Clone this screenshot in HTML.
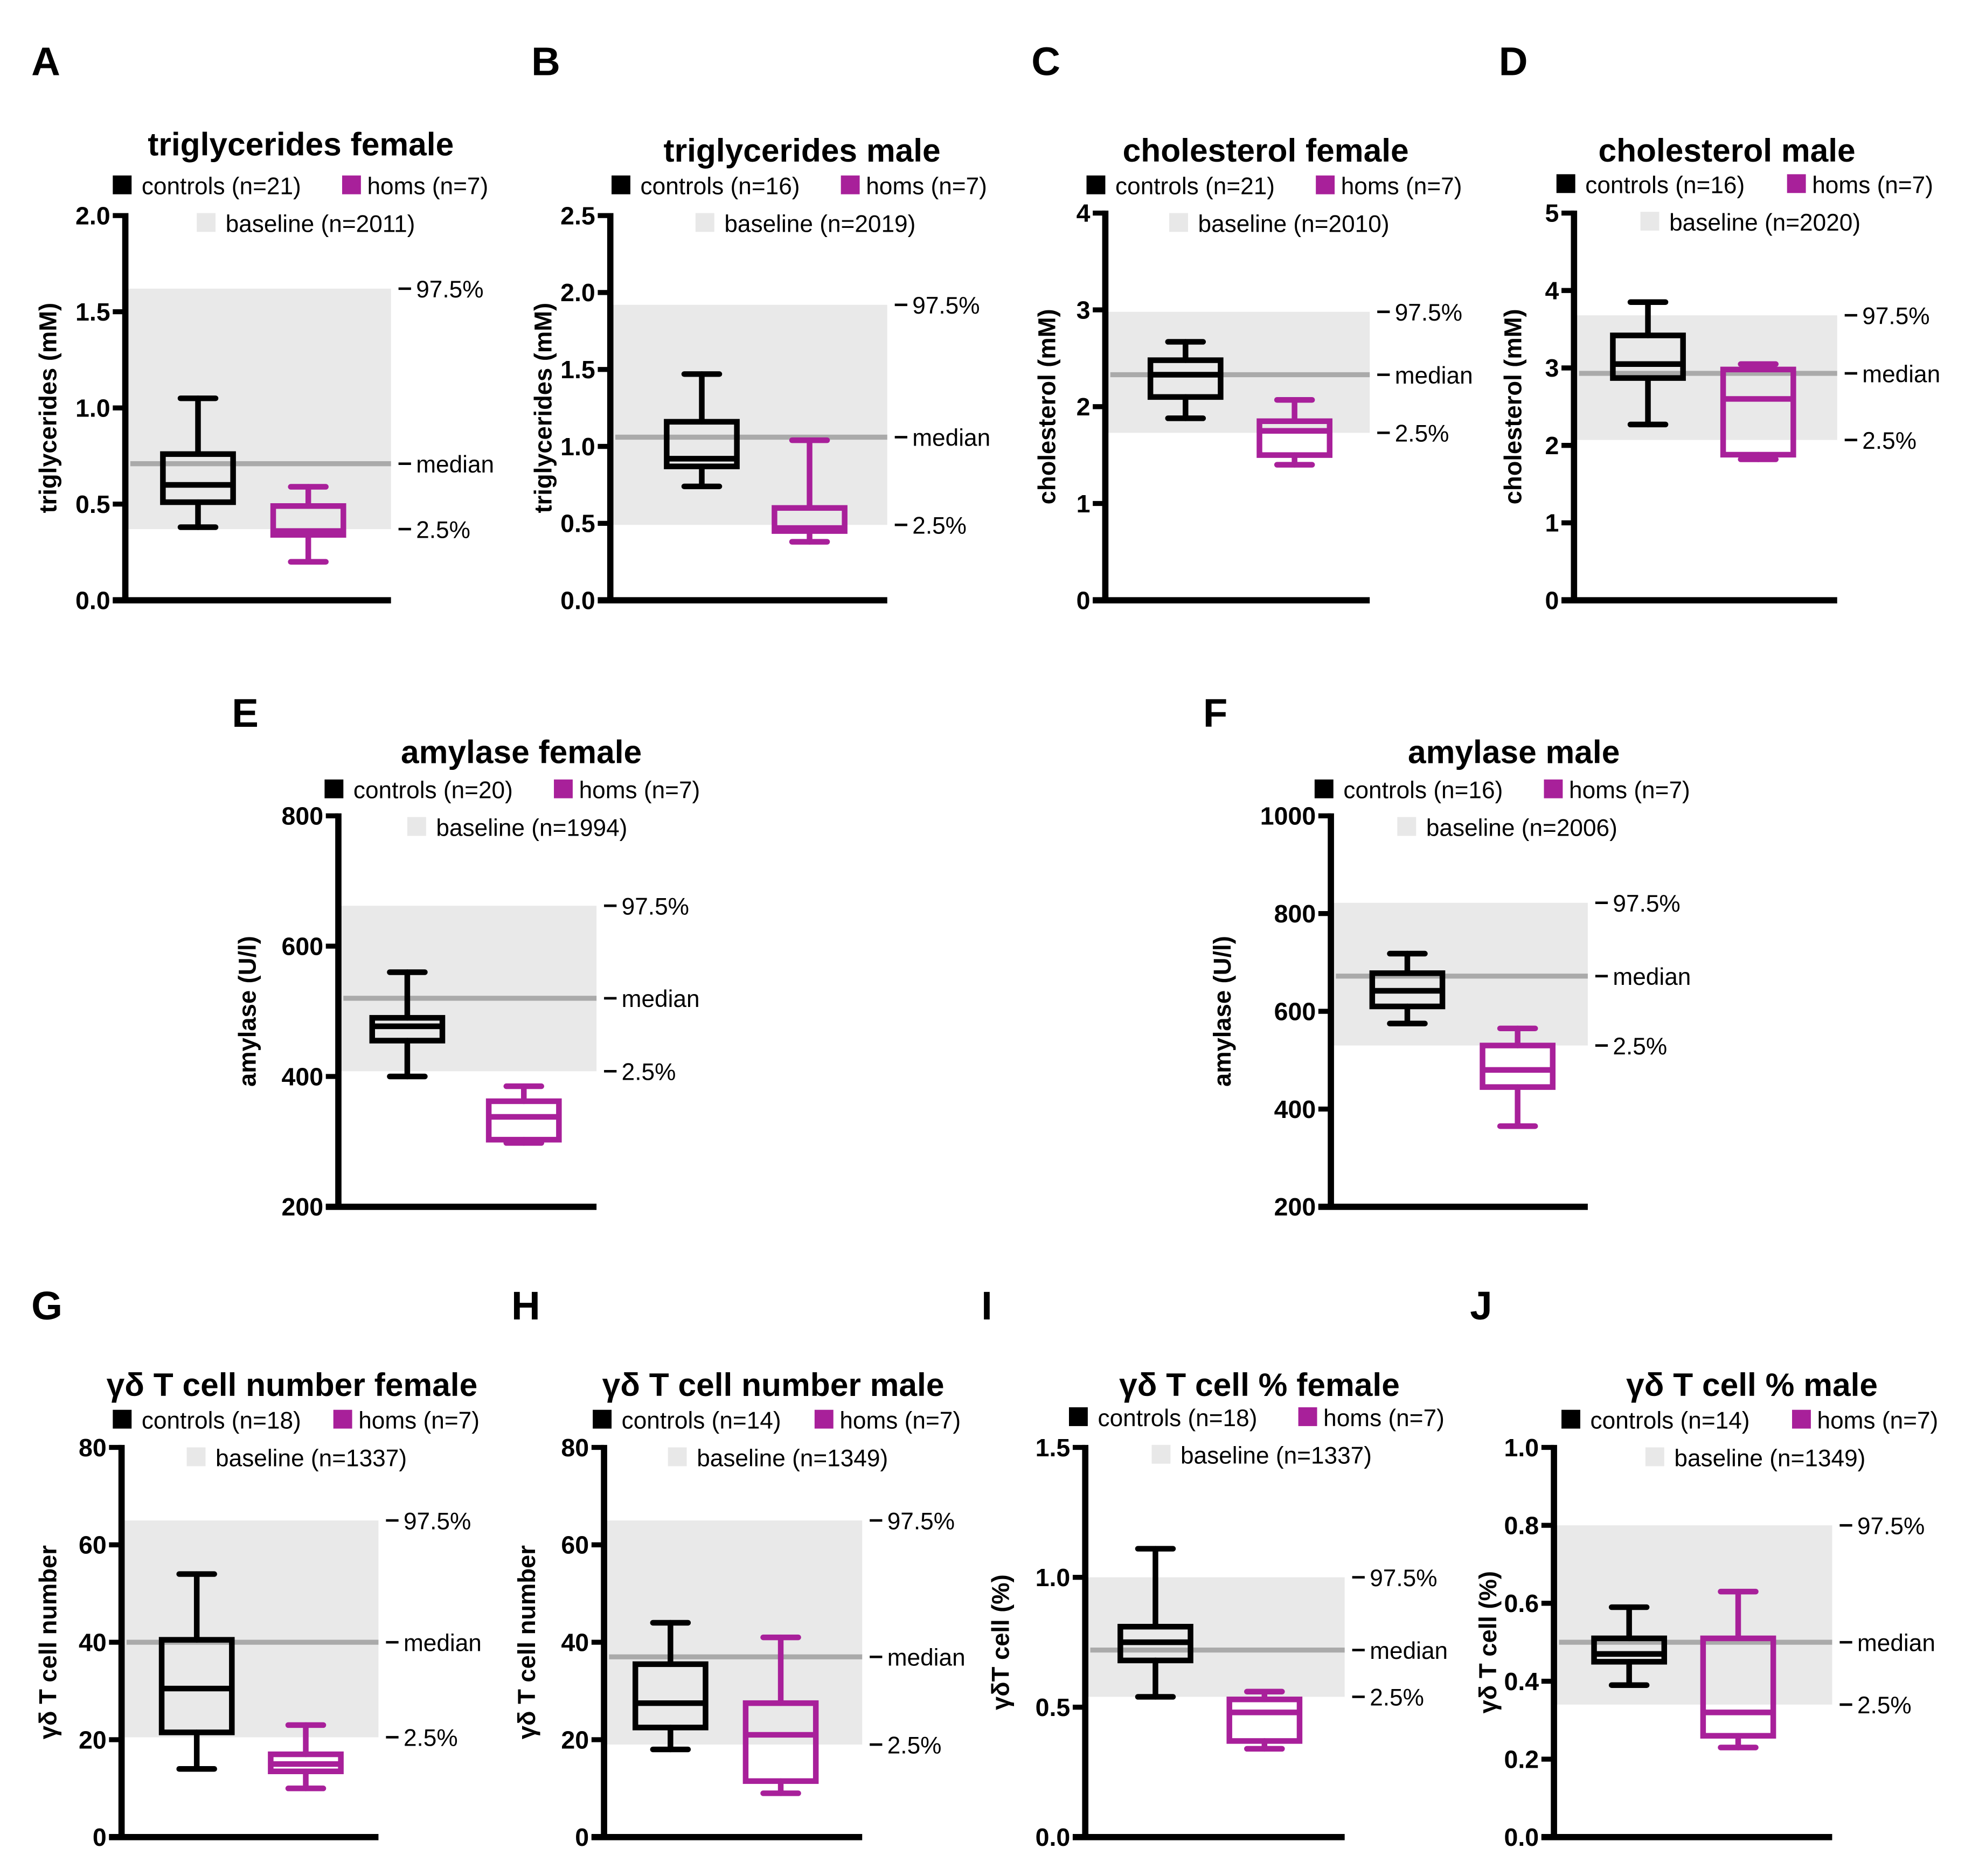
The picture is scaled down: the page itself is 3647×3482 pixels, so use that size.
<!DOCTYPE html>
<html><head><meta charset="utf-8"><style>
html,body{margin:0;padding:0;background:#fff;}
svg{display:block;font-family:"Liberation Sans",Arial,sans-serif;}
</style></head><body>
<svg id="fig" width="3647" height="3482" viewBox="0 0 1568 1497" xmlns="http://www.w3.org/2000/svg"></svg>
<script>
// ---- data ----
const titles = ["triglycerides female","triglycerides male","cholesterol female","cholesterol male","amylase female","amylase male","γδ T cell number female","γδ T cell number male","γδ T cell % female","γδ T cell % male"];
const yLabels = ["triglycerides (mM)","triglycerides (mM)","cholesterol (mM)","cholesterol (mM)","amylase (U/l)","amylase (U/l)","γδ T cell number","γδ T cell number","γδT cell (%)","γδ T cell (%)"];
const letters = ["A","B","C","D","E","F","G","H","I","J"];
const ctrlN = [21,16,21,16,20,16,18,14,18,14];
const homN = [7,7,7,7,7,7,7,7,7,7];
const baseN = [2011,2019,2010,2020,1994,2006,1337,1349,1337,1349];
const yMin = [0,0,0,0,200,200,0,0,0,0];
const yMax = [2,2.5,4,5,800,1000,80,80,1.5,1.0];
const yStep = [0.5,0.5,1,1,200,200,20,20,0.5,0.2];
const tickDecimals = [1,1,0,0,0,0,0,0,1,1];
const bandLo = [0.37,0.49,1.73,2.07,408,530,20.5,19,0.54,0.34];
const bandMed = [0.71,1.06,2.33,2.93,520,672,40,37,0.72,0.50];
const bandHi = [1.62,1.92,2.98,3.68,662,822,65,65,1.0,0.80];
// [whiskerLo, q1, median, q3, whiskerHi]
const ctrlStats = [[0.38,0.51,0.60,0.76,1.05],[0.74,0.87,0.92,1.16,1.47],[1.88,2.10,2.33,2.48,2.67],[2.27,2.87,3.05,3.42,3.85],[400,455,477,490,560],[575,610,642,678,718],[14,21.5,30.5,40.5,54],[18,22.5,27.5,35.5,44],[0.54,0.68,0.75,0.81,1.11],[0.39,0.45,0.47,0.51,0.59]];
const homStats = [[0.20,0.34,0.36,0.49,0.59],[0.38,0.45,0.47,0.60,1.04],[1.40,1.50,1.75,1.85,2.07],[1.82,1.88,2.60,2.98,3.05],[298,303,338,362,385],[365,445,480,530,565],[10,13.5,15,17,23],[9,11.5,21,27.5,41],[0.34,0.37,0.48,0.53,0.56],[0.23,0.26,0.32,0.51,0.63]];

// ---- layout (pixels) ----
const axX = [100,487,882,1256,270,1062,97,482,866,1240];
const axRight = [312,708,1093,1466,476,1267,302,688,1073,1462];
const axTop = [172,172,170,170,651,651,1155,1155,1155,1155];
const axBot = [479,479,479,479,963,963,1466,1466,1466,1466];
const ctrlX = [158,560,946,1315,325,1123,157,535,922,1300];
const homX = [246,646,1033,1403,418,1211,244,623,1009,1387];
const titleX = [240,640,1010,1378,416,1208,233,617,1005,1398];
const titleY = [115,120,120,120,600,600,1105,1105,1105,1105];
const legY = [148,148,148,147,630,630,1133,1133,1131,1133];
const legCx = [90,488,867,1242,259,1049,90,473,853,1246];
const legHx = [273,671,1050,1426,442,1232,266,650,1036,1430];
const legBx = [157,555,933,1309,325,1115,149,533,919,1313];
const ylabX = [38,433,835,1207,197,975,38,420,798,1187];
const letterX = [25,424,823,1196,185,960,25,408,783,1173];
const letterY = [60,60,60,60,580,580,1053,1053,1053,1053];

const NS="http://www.w3.org/2000/svg";
const svg=document.getElementById('fig');
function mk(tag,attrs,parent,text){const e=document.createElementNS(NS,tag);for(const k in attrs)e.setAttribute(k,attrs[k]);if(text!==undefined)e.textContent=text;(parent||svg).appendChild(e);return e;}

for(let i=0;i<titles.length;i++){
  const g=mk('g',{});
  
  
  const y=v=>axBot[i]-(v-yMin[i])/(yMax[i]-yMin[i])*(axBot[i]-axTop[i]);
  let t;
  t=mk('text',{x:letterX[i],y:letterY[i],'font-size':32,'font-weight':'bold'},g,letters[i]);
  
  
  t=mk('text',{x:titleX[i],y:titleY[i]+9,'font-size':26,'font-weight':'bold','text-anchor':'middle'},g,titles[i]);
  
  
  // legend
  const lg=mk('g',{},g);
  
  
  mk('rect',{x:legCx[i],y:legY[i]-8,width:15,height:15,fill:'#000'},lg);
  t=mk('text',{x:legCx[i]+23,y:legY[i]+7,'font-size':19},lg,'controls (n='+ctrlN[i]+')');
  
  
  mk('rect',{x:legHx[i],y:legY[i]-8,width:15,height:15,fill:'#a8209a'},lg);
  t=mk('text',{x:legHx[i]+20,y:legY[i]+7,'font-size':19},lg,'homs (n='+homN[i]+')');
  
  
  mk('rect',{x:legBx[i],y:legY[i]+22,width:15,height:15,fill:'#e8e8e8'},lg);
  t=mk('text',{x:legBx[i]+23,y:legY[i]+37,'font-size':19},lg,'baseline (n='+baseN[i]+')');
  
  
  // band
  const band=mk('rect',{x:axX[i],y:y(bandHi[i]),width:axRight[i]-axX[i],height:y(bandLo[i])-y(bandHi[i]),fill:'#e9e9e9'},g);
  
  
  const med=mk('line',{x1:axX[i]+4,x2:axRight[i],y1:y(bandMed[i]),y2:y(bandMed[i]),stroke:'#aaa','stroke-width':4},g);
  
  
  const refs=[[bandHi[i],'97.5%'],[bandMed[i],'median'],[bandLo[i],'2.5%']];
  refs.forEach(r=>{
    mk('line',{x1:axRight[i]+6,x2:axRight[i]+16,y1:y(r[0]),y2:y(r[0]),stroke:'#000','stroke-width':2},g);
    t=mk('text',{x:axRight[i]+20,y:y(r[0])+7,'font-size':19},g,r[1]);
    
    
  });
  // boxes
  [[ctrlStats[i],ctrlX[i],'#000','controls-box'],[homStats[i],homX[i],'#a8209a','homs-box']].forEach(b=>{
    const s=b[0],cx=b[1],c=b[2];
    const bg=mk('g',{stroke:c,'stroke-width':4.5,fill:'none','stroke-linecap':'round'},g);
    
    
    mk('line',{x1:cx,x2:cx,y1:y(s[0]),y2:y(s[1])},bg);
    mk('line',{x1:cx,x2:cx,y1:y(s[3]),y2:y(s[4])},bg);
    mk('line',{x1:cx-14,x2:cx+14,y1:y(s[0]),y2:y(s[0])},bg);
    mk('line',{x1:cx-14,x2:cx+14,y1:y(s[4]),y2:y(s[4])},bg);
    mk('rect',{x:cx-28,y:y(s[3]),width:56,height:y(s[1])-y(s[3]),'stroke-linecap':'butt'},bg);
    mk('line',{x1:cx-28,x2:cx+28,y1:y(s[2]),y2:y(s[2]),'stroke-linecap':'butt'},bg);
  });
  // axes
  const ax=mk('g',{},g);
  
  
  mk('line',{x1:axX[i],x2:axX[i],y1:axTop[i]-2,y2:axBot[i]+2,stroke:'#000','stroke-width':5},ax);
  const xa=mk('line',{x1:axX[i]-10,x2:axRight[i],y1:axBot[i],y2:axBot[i],stroke:'#000','stroke-width':5},g);
  
  
  const nT=Math.round((yMax[i]-yMin[i])/yStep[i]);
  for(let k=0;k<=nT;k++){
    const v=yMin[i]+k*yStep[i];
    mk('line',{x1:axX[i]-10,x2:axX[i],y1:y(v),y2:y(v),stroke:'#000','stroke-width':4},ax);
    t=mk('text',{x:axX[i]-12,y:y(v)+7,'font-size':20,'font-weight':'bold','text-anchor':'end'},ax,v.toFixed(tickDecimals[i]));
    
    
  }
  const cy=(axTop[i]+axBot[i])/2;
  t=mk('text',{x:ylabX[i],y:cy,'font-size':19.5,'font-weight':'bold','text-anchor':'middle',transform:'rotate(-90 '+ylabX[i]+' '+cy+')'},g,yLabels[i]);
  t.setAttribute('dy','7');
  
  
}
</script>
</body></html>
